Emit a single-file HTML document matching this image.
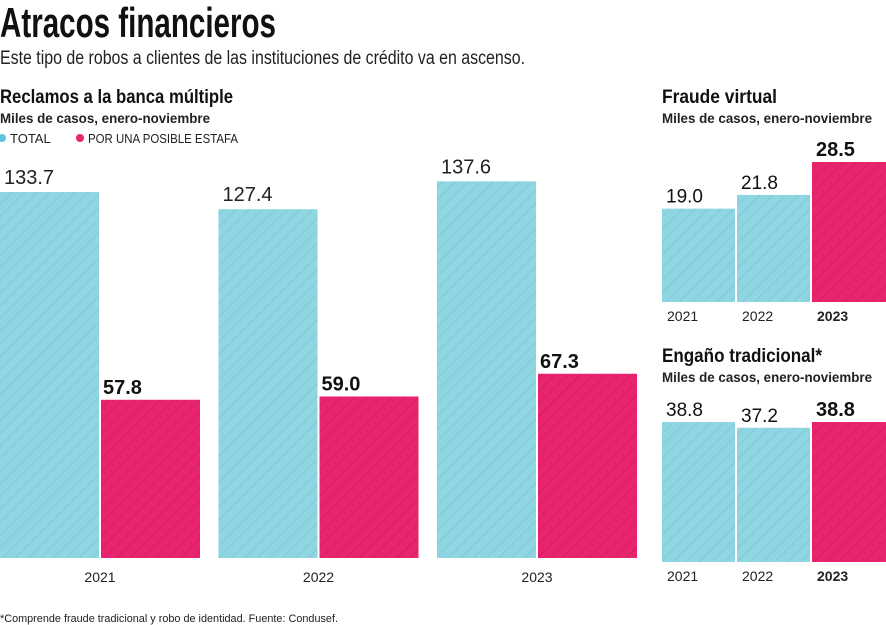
<!DOCTYPE html>
<html><head><meta charset="utf-8">
<style>
html,body{margin:0;padding:0;background:#fff;}
svg{display:block;font-family:"Liberation Sans",sans-serif;}
</style></head>
<body>
<svg id="chart" width="886" height="625" viewBox="0 0 886 625">
<defs>
<pattern id="hc" patternUnits="userSpaceOnUse" width="9" height="9" patternTransform="rotate(45)">
<rect width="9" height="9" fill="#8fd6e3"/><line x1="0" y1="0" x2="0" y2="9" stroke="#7ec3d2" stroke-width="1.5"/></pattern>
<pattern id="hp" patternUnits="userSpaceOnUse" width="9" height="9" patternTransform="rotate(45)">
<rect width="9" height="9" fill="#e9246e"/><line x1="0" y1="0" x2="0" y2="9" stroke="#d21a60" stroke-width="1.5"/></pattern>
</defs>
<text x="0" y="37" font-size="42" font-weight="bold" fill="#111" textLength="276" lengthAdjust="spacingAndGlyphs">Atracos financieros</text>
<text x="0" y="64" font-size="19" fill="#222" textLength="525" lengthAdjust="spacingAndGlyphs">Este tipo de robos a clientes de las instituciones de crédito va en ascenso.</text>
<text x="0" y="103" font-size="19" font-weight="bold" fill="#111" textLength="233" lengthAdjust="spacingAndGlyphs">Reclamos a la banca múltiple</text>
<text x="0" y="123" font-size="14" font-weight="bold" fill="#222" textLength="210" lengthAdjust="spacingAndGlyphs">Miles de casos, enero-noviembre</text>
<g>
<circle cx="2" cy="138" r="4" fill="#5bc6dc"/>
<text x="10" y="143" font-size="13" fill="#222">TOTAL</text>
<circle cx="80" cy="138" r="4" fill="#e9246e"/>
<text x="88" y="143" font-size="13" fill="#222" textLength="150" lengthAdjust="spacingAndGlyphs">POR UNA POSIBLE ESTAFA</text>
</g>
<g id="main"></g>
<text x="662" y="103" font-size="19" font-weight="bold" fill="#111" textLength="115" lengthAdjust="spacingAndGlyphs">Fraude virtual</text>
<text x="662" y="123" font-size="14" font-weight="bold" fill="#222" textLength="210" lengthAdjust="spacingAndGlyphs">Miles de casos, enero-noviembre</text>
<g id="fraude"></g>
<text x="662" y="362" font-size="19" font-weight="bold" fill="#111" textLength="160" lengthAdjust="spacingAndGlyphs">Engaño tradicional*</text>
<text x="662" y="382" font-size="14" font-weight="bold" fill="#222" textLength="210" lengthAdjust="spacingAndGlyphs">Miles de casos, enero-noviembre</text>
<g id="engano"></g>
<text x="0" y="622" font-size="11" fill="#222" textLength="338" lengthAdjust="spacingAndGlyphs">*Comprende fraude tradicional y robo de identidad. Fuente: Condusef.</text>
</svg>
<script>
const years = ["2021","2022","2023"];
const totalValues = [133.7,127.4,137.6];
const estafaValues = [57.8,59.0,67.3];
const fraudeValues = [19.0,21.8,28.5];
const enganoValues = [38.8,37.2,38.8];
const NS="http://www.w3.org/2000/svg";
function mk(tag,attrs,parent,txt){const e=document.createElementNS(NS,tag);for(const k in attrs)e.setAttribute(k,attrs[k]);if(txt!==undefined)e.textContent=txt;parent.appendChild(e);return e;}
// main chart
const mainG=document.getElementById('main');
const base=558, scale=366/133.7;
const yM=v=>base-v*scale;
years.forEach((yr,i)=>{
  const x0=i*218.5;
  const b1=mk('rect',{x:x0,y:yM(totalValues[i]),width:99,height:base-yM(totalValues[i]),fill:'url(#hc)'},mainG);
  
  
  const b2=mk('rect',{x:x0+101,y:yM(estafaValues[i]),width:99,height:base-yM(estafaValues[i]),fill:'url(#hp)'},mainG);
  
  
  const t1=mk('text',{x:x0+4,y:yM(totalValues[i])-8,'font-size':20,fill:'#222'},mainG,totalValues[i].toFixed(1));
  
  
  const t2=mk('text',{x:x0+103,y:yM(estafaValues[i])-6,'font-size':20,'font-weight':'bold',fill:'#111'},mainG,estafaValues[i].toFixed(1));
  
  
  const t3=mk('text',{x:x0+100,y:582,'font-size':14,fill:'#222','text-anchor':'middle'},mainG,yr);
  
  
});
function small(gid,vals,b,sc,prefix){
  const g=document.getElementById(gid);
  const y=v=>b-v*sc;
  years.forEach((yr,i)=>{
    const x0=662+i*75, last=i===2;
    const r=mk('rect',{x:x0,y:y(vals[i]),width:last?74:73,height:b-y(vals[i]),fill:last?'url(#hp)':'url(#hc)'},g);
    
    
    const t=mk('text',{x:x0+4,y:y(vals[i])-6,'font-size':last?20:19,'font-weight':last?'bold':'normal',fill:'#111'},g,vals[i].toFixed(1));
    
    
    const l=mk('text',{x:x0+5,y:b+19,'font-size':14,'font-weight':last?'bold':'normal',fill:'#222'},g,yr);
    
    
  });
}
small('fraude',fraudeValues,302,140/28.5,'fraude');
small('engano',enganoValues,562,140/38.8,'engano');
</script>
</body></html>
